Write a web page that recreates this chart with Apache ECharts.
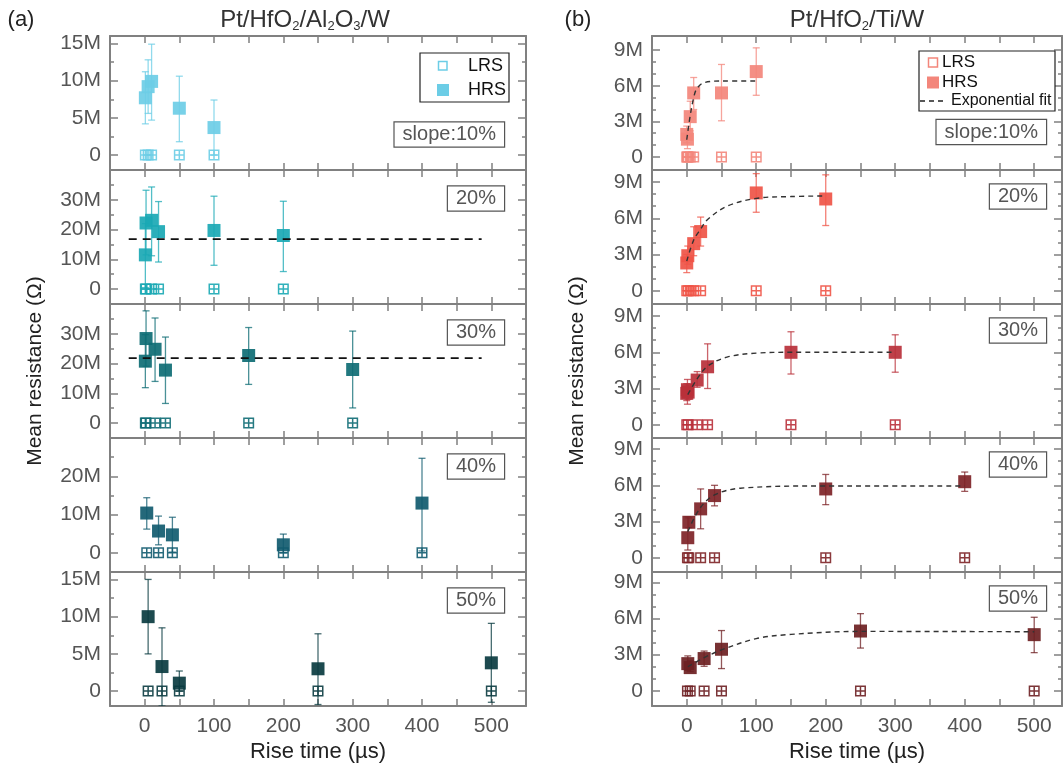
<!DOCTYPE html>
<html>
<head>
<meta charset="utf-8">
<script src="https://cdn.jsdelivr.net/npm/echarts@6/dist/echarts.min.js"></script>
<style>html,body{margin:0;padding:0;background:#fff}#c{width:1063px;height:773px}</style>
</head>
<body>
<div id="c"></div>
<script>
// ===== DATA (resistance in MΩ, rise time in µs) =====
// (a) Pt/HfO2/Al2O3/W
const a10_t = [1, 5, 10, 50, 100];
const a10_hrs = [7.7, 9.2, 9.9, 6.3, 3.7];
const a10_lo = [4.2, 5.6, 4.7, 1.8, 0.0];
const a10_hi = [11.2, 12.8, 14.9, 10.6, 7.4];
const a10_lrs_t = [1, 5, 10, 50, 100];
const a10_lrs = [0, 0, 0, 0, 0];

const a20_t = [1, 2, 10, 20, 100, 200];
const a20_hrs = [11.5, 22.2, 23.1, 19.3, 19.7, 18.0];
const a20_lo = [0.5, 11.5, 11.2, 9.1, 8.0, 5.9];
const a20_hi = [22.0, 33.2, 34.3, 29.4, 31.2, 29.5];
const a20_lrs_t = [1, 2, 10, 20, 100, 200];
const a20_lrs = [0, 0, 0, 0, 0, 0];
const a20_fit_t = [-23, 486];
const a20_fit = [16.8, 16.8];

const a30_t = [1, 2, 15, 30, 150, 300];
const a30_hrs = [20.8, 28.4, 24.8, 17.8, 22.7, 18.0];
const a30_lo = [11.9, 19.1, 14.0, 6.6, 13.0, 5.1];
const a30_hi = [29.7, 37.7, 35.3, 28.9, 32.1, 30.9];
const a30_lrs_t = [1, 2, 15, 30, 150, 300];
const a30_lrs = [0, 0, 0, 0, 0, 0];
const a30_fit_t = [-23, 486];
const a30_fit = [21.8, 21.8];

const a40_t = [3, 20, 40, 200, 400];
const a40_hrs = [10.4, 5.7, 4.7, 2.1, 13.0];
const a40_lo = [6.2, 2.1, 0.2, 0.0, 0.5];
const a40_hi = [14.4, 9.6, 9.3, 4.9, 24.7];
const a40_lrs_t = [3, 20, 40, 200, 400];
const a40_lrs = [0, 0, 0, 0, 0];

const a50_t = [5, 25, 50, 250, 500];
const a50_hrs = [10.0, 3.3, 1.07, 3.0, 3.8];
const a50_lo = [5.0, -2.0, 0.0, -1.8, -1.5];
const a50_hi = [15.0, 8.5, 2.7, 7.7, 9.1];
const a50_lrs_t = [5, 25, 50, 250, 500];
const a50_lrs = [0, 0, 0, 0, 0];

// (b) Pt/HfO2/Ti/W
const b10_t = [0, 1, 5, 10, 50, 100];
const b10_hrs = [1.9, 1.5, 3.4, 5.4, 5.4, 7.2];
const b10_lo = [1.2, 0.7, 2.2, 4.0, 3.05, 5.2];
const b10_hi = [2.6, 2.2, 4.7, 6.7, 7.8, 9.2];
const b10_lrs_t = [0, 1, 2, 5, 10, 50, 100];
const b10_lrs = [0, 0, 0, 0, 0, 0, 0];
const b10_fit_t = [0, 5, 10, 14, 24, 50, 100];
const b10_fit = [1.45, 3.5, 5.0, 5.7, 6.25, 6.4, 6.4];

const b20_t = [0, 1.5, 10, 20, 100, 200];
const b20_hrs = [2.3, 2.9, 3.9, 4.9, 8.1, 7.6];
const b20_lo = [1.5, 2.2, 2.9, 3.7, 6.5, 5.4];
const b20_hi = [3.0, 3.7, 5.3, 6.1, 9.7, 9.6];
const b20_lrs_t = [0, 2, 5, 10, 20, 100, 200];
const b20_lrs = [0, 0, 0, 0, 0, 0, 0];
const b20_fit_t = [0, 10, 20, 30, 58, 100, 150, 200];
const b20_fit = [2.45, 4.2, 5.1, 5.9, 7.0, 7.65, 7.8, 7.85];

const b30_t = [0, 1, 2, 15, 30, 150, 300];
const b30_hrs = [2.6, 2.9, 2.7, 3.7, 4.8, 6.0, 6.0];
const b30_lo = [2.0, 1.7, 2.1, 3.1, 3.0, 4.2, 4.35];
const b30_hi = [3.4, 3.75, 3.3, 4.4, 6.7, 7.7, 7.45];
const b30_lrs_t = [0, 2, 15, 30, 150, 300];
const b30_lrs = [0, 0, 0, 0, 0, 0];
const b30_fit_t = [1.5, 15, 30, 58, 100, 150, 300];
const b30_fit = [2.5, 3.8, 4.85, 5.6, 5.93, 6.0, 6.0];

const b40_t = [1.5, 3, 20, 40, 200, 400];
const b40_hrs = [1.66, 2.94, 4.05, 5.15, 5.7, 6.3];
const b40_lo = [0.64, 2.5, 2.4, 4.3, 4.4, 5.5];
const b40_hi = [3.4, 3.3, 5.7, 6.0, 6.9, 7.1];
const b40_lrs_t = [1, 3, 20, 40, 200, 400];
const b40_lrs = [0, 0, 0, 0, 0, 0];
const b40_fit_t = [1.5, 19, 40, 77, 200, 400];
const b40_fit = [2.16, 4.1, 5.2, 5.76, 5.95, 5.95];

const b50_t = [1.5, 5, 25, 50, 250, 500];
const b50_hrs = [2.26, 1.93, 2.68, 3.45, 4.96, 4.66];
const b50_lo = [1.7, 1.6, 2.04, 1.85, 3.55, 3.17];
const b50_hi = [2.9, 2.5, 3.3, 5.0, 6.4, 6.1];
const b50_lrs_t = [1, 5, 25, 50, 250, 500];
const b50_lrs = [0, 0, 0, 0, 0, 0];
const b50_fit_t = [1.5, 25, 50, 100, 150, 250, 500];
const b50_fit = [2.0, 2.75, 3.4, 4.33, 4.68, 4.93, 4.9];

// tick values
const xLabels = [0, 100, 200, 300, 400, 500];
const aMajor = [[0, 5, 10, 15], [0, 10, 20, 30], [0, 10, 20, 30], [0, 10, 20], [0, 5, 10, 15]];
const aMinor = [[2.5, 7.5, 12.5], [5, 15, 25, 35], [5, 15, 25, 35], [5, 15, 25], [2.5, 7.5, 12.5]];
const bMajor = [0, 3, 6, 9];
const bMinor = [1, 2, 4, 5, 7, 8];
const tags = ['slope:10%', '20%', '30%', '40%', '50%'];

// ===== STYLE / LAYOUT =====
const FONT = "'Liberation Sans', Arial, sans-serif";
const aColors = ['#6ccde6', '#1aa8b4', '#0e6c74', '#115b6f', '#0a3b40'];
const bColors = ['#f3867b', '#ef5447', '#b9303a', '#7e2327', '#6d1f22'];
const TOPS = [36, 170, 304, 438, 572];
const H = 134;
const aRange = [[-2, 16], [-5, 40], [-5, 40], [-5, 30], [-2, 16]];
const bRange = [[-1.1, 10.2], [-1.1, 10], [-1.1, 10], [-1.18, 9.92], [-1.25, 9.85]];

const panels = [
  {s: 'a', r: 0, t: a10_t, v: a10_hrs, lo: a10_lo, hi: a10_hi, lt: a10_lrs_t, lv: a10_lrs},
  {s: 'a', r: 1, t: a20_t, v: a20_hrs, lo: a20_lo, hi: a20_hi, lt: a20_lrs_t, lv: a20_lrs, ft: a20_fit_t, fv: a20_fit},
  {s: 'a', r: 2, t: a30_t, v: a30_hrs, lo: a30_lo, hi: a30_hi, lt: a30_lrs_t, lv: a30_lrs, ft: a30_fit_t, fv: a30_fit},
  {s: 'a', r: 3, t: a40_t, v: a40_hrs, lo: a40_lo, hi: a40_hi, lt: a40_lrs_t, lv: a40_lrs},
  {s: 'a', r: 4, t: a50_t, v: a50_hrs, lo: a50_lo, hi: a50_hi, lt: a50_lrs_t, lv: a50_lrs},
  {s: 'b', r: 0, t: b10_t, v: b10_hrs, lo: b10_lo, hi: b10_hi, lt: b10_lrs_t, lv: b10_lrs, ft: b10_fit_t, fv: b10_fit},
  {s: 'b', r: 1, t: b20_t, v: b20_hrs, lo: b20_lo, hi: b20_hi, lt: b20_lrs_t, lv: b20_lrs, ft: b20_fit_t, fv: b20_fit},
  {s: 'b', r: 2, t: b30_t, v: b30_hrs, lo: b30_lo, hi: b30_hi, lt: b30_lrs_t, lv: b30_lrs, ft: b30_fit_t, fv: b30_fit},
  {s: 'b', r: 3, t: b40_t, v: b40_hrs, lo: b40_lo, hi: b40_hi, lt: b40_lrs_t, lv: b40_lrs, ft: b40_fit_t, fv: b40_fit},
  {s: 'b', r: 4, t: b50_t, v: b50_hrs, lo: b50_lo, hi: b50_hi, lt: b50_lrs_t, lv: b50_lrs, ft: b50_fit_t, fv: b50_fit}
];

const AXC = '#808080';
const LRS_PATH = 'path://M0,0L10,0L10,10L0,10Z M5,0L5,10 M0,5L10,5';

const grid = [], xAxis = [], yAxis = [], series = [], graphic = [];

panels.forEach((p, g) => {
  const isA = p.s === 'a';
  const left = isA ? 110 : 652, width = isA ? 416 : 410;
  const top = TOPS[p.r];
  const color = isA ? aColors[p.r] : bColors[p.r];
  const range = isA ? aRange[p.r] : bRange[p.r];
  const major = isA ? aMajor[p.r] : bMajor;
  const minor = isA ? aMinor[p.r] : bMinor;
  const bottomRow = p.r === 4;
  grid.push({left: left, top: top, width: width, height: H, containLabel: false});

  const xCommon = {type: 'value', gridIndex: g, min: -50, max: isA ? 550 : 540, interval: 50,
    splitLine: {show: false},
    axisLine: {show: true, onZero: false, lineStyle: {color: AXC, width: 2}},
    axisTick: {show: true, inside: true, length: 7, lineStyle: {color: AXC, width: 1.5}}};
  xAxis.push(Object.assign({}, xCommon, {position: 'bottom',
    axisLabel: {show: bottomRow, customValues: xLabels, color: '#555', fontSize: 21, fontFamily: FONT, margin: 10},
    name: bottomRow ? 'Rise time (µs)' : '', nameLocation: 'middle', nameGap: 35,
    nameTextStyle: {color: '#222', fontSize: 22, fontFamily: FONT}}));
  xAxis.push(Object.assign({}, xCommon, {position: 'top', axisLabel: {show: false}}));

  const yCommon = {type: 'value', gridIndex: g, min: range[0], max: range[1], splitLine: {show: false}};
  yAxis.push(Object.assign({}, yCommon, {position: 'left',
    axisLine: {show: true, onZero: false, lineStyle: {color: AXC, width: 2}},
    axisTick: {show: true, inside: true, length: 8, customValues: major, lineStyle: {color: AXC, width: 1.5}},
    axisLabel: {show: true, customValues: major, color: '#555', fontSize: 21, fontFamily: FONT, margin: 9,
      formatter: v => v === 0 ? '0' : v + 'M'},
    name: p.r === 2 ? 'Mean resistance (Ω)' : '', nameLocation: 'middle', nameGap: 64, nameRotate: 90,
    nameTextStyle: {color: '#222', fontSize: 21, fontFamily: FONT}}));
  yAxis.push(Object.assign({}, yCommon, {position: 'left', axisLine: {show: false, onZero: false}, axisLabel: {show: false},
    axisTick: {show: true, inside: true, length: 4, customValues: minor, lineStyle: {color: AXC, width: 1.5}}}));
  yAxis.push(Object.assign({}, yCommon, {position: 'right',
    axisLine: {show: true, onZero: false, lineStyle: {color: AXC, width: 2}}, axisLabel: {show: false},
    axisTick: {show: true, inside: true, length: 8, customValues: major, lineStyle: {color: AXC, width: 1.5}}}));
  yAxis.push(Object.assign({}, yCommon, {position: 'right', axisLine: {show: false, onZero: false}, axisLabel: {show: false},
    axisTick: {show: true, inside: true, length: 4, customValues: minor, lineStyle: {color: AXC, width: 1.5}}}));

  const xi = 2 * g, yi = 4 * g;
  // error bars
  series.push({type: 'custom', xAxisIndex: xi, yAxisIndex: yi, clip: true, silent: true,
    encode: {x: 0, y: [1, 2]},
    data: p.t.map((t, i) => [t, p.lo[i], p.hi[i]]),
    renderItem: (params, api) => {
      const x = api.value(0);
      const a = api.coord([x, api.value(2)]), b = api.coord([x, api.value(1)]);
      const w = 3.5;
      const st = {stroke: color, lineWidth: 1.3, opacity: 0.75};
      return {type: 'group', children: [
        {type: 'line', shape: {x1: a[0], y1: a[1], x2: b[0], y2: b[1]}, style: st},
        {type: 'line', shape: {x1: a[0] - w, y1: a[1], x2: a[0] + w, y2: a[1]}, style: st},
        {type: 'line', shape: {x1: b[0] - w, y1: b[1], x2: b[0] + w, y2: b[1]}, style: st}
      ]};
    }});
  // LRS
  series.push({type: 'scatter', name: 'LRS', xAxisIndex: xi, yAxisIndex: yi, silent: true,
    symbol: LRS_PATH, symbolSize: 9.5,
    itemStyle: {color: 'rgba(255,255,255,0)', borderColor: color, borderWidth: 1.5, opacity: 0.9},
    data: p.lt.map((t, i) => [t, p.lv[i]])});
  // HRS
  series.push({type: 'scatter', name: 'HRS', xAxisIndex: xi, yAxisIndex: yi, silent: true,
    symbol: 'rect', symbolSize: 13, itemStyle: {color: color, opacity: 0.92},
    data: p.t.map((t, i) => [t, p.v[i]])});
  // fit line
  if (p.ft) {
    series.push({type: 'line', xAxisIndex: xi, yAxisIndex: yi, silent: true, showSymbol: false,
      smooth: isA ? false : 0.35, z: 5,
      lineStyle: isA ? {color: '#111', width: 1.8, type: [8, 6]} : {color: '#333', width: 1.4, type: [5, 4]},
      data: p.ft.map((t, i) => [t, p.fv[i]])});
  }
  // tag box
  graphic.push({type: 'text', x: isA ? 504 : 1046, y: top + (p.r === 0 ? (isA ? 98.5 : 96) : (isA ? 28.5 : 26.5)), z: 100,
    style: {text: tags[p.r], font: '20px ' + FONT, fill: '#555', align: 'right', verticalAlign: 'middle',
      backgroundColor: '#fff', borderColor: '#555', borderWidth: 1.2, padding: [3, 8, 1, 8]}});
});

// titles
const richT = {
  n: {fontSize: 24, lineHeight: 24, verticalAlign: 'top', fill: '#333', fontFamily: FONT},
  s: {fontSize: 13, lineHeight: 13, verticalAlign: 'top', padding: [12, 0, 0, 0], fill: '#333', fontFamily: FONT}
};
graphic.push({type: 'text', x: 305, y: 20, style: {text: '{n|Pt/HfO}{s|2}{n|/Al}{s|2}{n|O}{s|3}{n|/W}', rich: richT, align: 'center', verticalAlign: 'middle'}});
graphic.push({type: 'text', x: 857, y: 20, style: {text: '{n|Pt/HfO}{s|2}{n|/Ti/W}', rich: richT, align: 'center', verticalAlign: 'middle'}});
graphic.push({type: 'text', x: 21, y: 20, style: {text: '(a)', font: '22px ' + FONT, fill: '#222', align: 'center', verticalAlign: 'middle'}});
graphic.push({type: 'text', x: 578, y: 20, style: {text: '(b)', font: '22px ' + FONT, fill: '#222', align: 'center', verticalAlign: 'middle'}});

// legends
graphic.push({type: 'rect', z: 100, shape: {x: 420, y: 53, width: 89, height: 49}, style: {fill: '#fff', stroke: '#222', lineWidth: 1.2}});
graphic.push({type: 'rect', z: 101, shape: {x: 438.5, y: 61.5, width: 8.5, height: 8.5}, style: {fill: 'none', stroke: aColors[0], lineWidth: 1.5}});
graphic.push({type: 'rect', z: 101, shape: {x: 437, y: 84, width: 12, height: 12}, style: {fill: aColors[0]}});
graphic.push({type: 'text', z: 101, x: 468, y: 66, style: {text: 'LRS', font: '18px ' + FONT, fill: '#111', verticalAlign: 'middle'}});
graphic.push({type: 'text', z: 101, x: 468, y: 90.5, style: {text: 'HRS', font: '18px ' + FONT, fill: '#111', verticalAlign: 'middle'}});

graphic.push({type: 'rect', z: 100, shape: {x: 919, y: 51, width: 136, height: 60}, style: {fill: '#fff', stroke: '#222', lineWidth: 1.2}});
graphic.push({type: 'rect', z: 101, shape: {x: 928.5, y: 58, width: 9, height: 9}, style: {fill: 'none', stroke: bColors[0], lineWidth: 1.5}});
graphic.push({type: 'rect', z: 101, shape: {x: 927, y: 76.5, width: 12, height: 12}, style: {fill: bColors[0]}});
graphic.push({type: 'line', z: 101, shape: {x1: 920, y1: 101, x2: 943, y2: 101}, style: {stroke: '#222', lineWidth: 1.3, lineDash: [5, 4]}});
graphic.push({type: 'text', z: 101, x: 942, y: 62.5, style: {text: 'LRS', font: '17px ' + FONT, fill: '#111', verticalAlign: 'middle'}});
graphic.push({type: 'text', z: 101, x: 942, y: 82.5, style: {text: 'HRS', font: '17px ' + FONT, fill: '#111', verticalAlign: 'middle'}});
graphic.push({type: 'text', z: 101, x: 951, y: 101, style: {text: 'Exponential fit', font: '16px ' + FONT, fill: '#111', verticalAlign: 'middle'}});

const chart = echarts.init(document.getElementById('c'), null, {renderer: 'canvas'});
chart.setOption({
  animation: false,
  backgroundColor: '#fff',
  textStyle: {fontFamily: FONT},
  grid: grid, xAxis: xAxis, yAxis: yAxis, series: series, graphic: graphic
});
</script>
</body>
</html>
